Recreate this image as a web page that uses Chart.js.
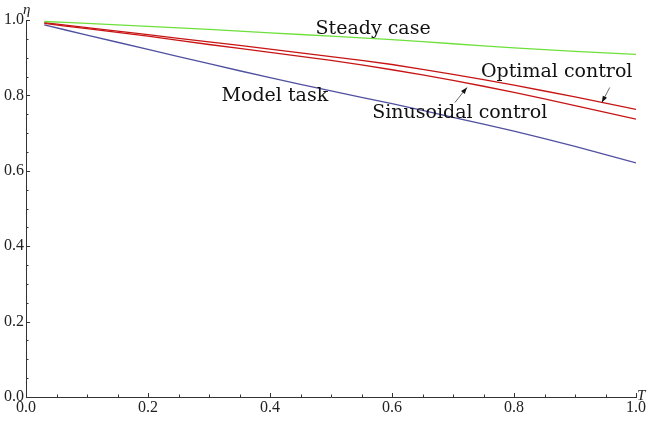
<!DOCTYPE html>
<html>
<head>
<meta charset="utf-8">
<script src="https://cdn.jsdelivr.net/npm/chart.js@4.4.0/dist/chart.umd.min.js"></script>
<style>
  html, body { margin:0; padding:0; background:#fff; }
  #wrap { width:651px; height:422px; position:relative; }
</style>
</head>
<body>
<div id="wrap"><canvas id="c"></canvas></div>
<script>
// ---- data ----
const tValues    = [0.03, 0.1, 0.2, 0.3, 0.4, 0.5, 0.6, 0.7, 0.8, 0.9, 1.0];
const steadyCase = [0.996, 0.991, 0.983, 0.975, 0.966, 0.957, 0.948, 0.937, 0.926, 0.917, 0.909];
const optimal    = [0.993, 0.980, 0.961, 0.942, 0.923, 0.903, 0.882, 0.856, 0.827, 0.796, 0.763];
const sinusoidal = [0.991, 0.977, 0.957, 0.935, 0.914, 0.893, 0.868, 0.840, 0.808, 0.773, 0.737];
const modelTask  = [0.987, 0.960, 0.922, 0.884, 0.847, 0.812, 0.778, 0.742, 0.705, 0.665, 0.621];

// curve labels (data coords) and arrows [tailT, tailEta, headT, headEta]
const labels = [
  { text:'Steady case',        t:0.569, eta:0.975 },
  { text:'Optimal control',    t:0.870, eta:0.863 },
  { text:'Model task',         t:0.408, eta:0.799 },
  { text:'Sinusoidal control', t:0.711, eta:0.754 },
];
const arrows = [
  [0.703, 0.781, 0.723, 0.821],
  [0.957, 0.821, 0.944, 0.781],
];

const serif = '"Liberation Serif", "DejaVu Serif", serif';
const labelFont = '"DejaVu Serif", serif';
const pts = vals => vals.map((v, i) => ({ x: tValues[i], y: v }));

// inward Mathematica-style ticks, labels, arrows
const decor = {
  id: 'decor',
  afterDraw(chart) {
    const { ctx, scales: { x, y } } = chart;
    ctx.save();
    ctx.strokeStyle = '#333'; ctx.lineWidth = 1;
    // minor/major ticks every 0.05
    for (let k = 1; k <= 20; k++) {
      const v = k * 0.05, len = (k % 4 === 0) ? 4 : 2.5;
      const px = Math.round(x.getPixelForValue(v)) + 0.5;
      const py = Math.round(y.getPixelForValue(v)) + 0.5;
      ctx.beginPath(); ctx.moveTo(px, y.bottom); ctx.lineTo(px, y.bottom - len); ctx.stroke();
      ctx.beginPath(); ctx.moveTo(x.left, py); ctx.lineTo(x.left + len, py); ctx.stroke();
    }
    // axis names
    ctx.fillStyle = '#222';
    ctx.font = 'italic 15px ' + serif;
    ctx.textAlign = 'left'; ctx.textBaseline = 'alphabetic';
    ctx.fillText('η', x.left - 3, y.top - 6);
    ctx.fillText('T', x.right + 1, y.bottom + 3);
    // curve labels
    ctx.fillStyle = '#111';
    ctx.font = '19px ' + labelFont;
    ctx.textAlign = 'center'; ctx.textBaseline = 'middle';
    labels.forEach(l => ctx.fillText(l.text, x.getPixelForValue(l.t), y.getPixelForValue(l.eta)));
    // arrows
    ctx.strokeStyle = '#444'; ctx.fillStyle = '#111'; ctx.lineWidth = 0.8;
    arrows.forEach(a => {
      const x0 = x.getPixelForValue(a[0]), y0 = y.getPixelForValue(a[1]);
      const x1 = x.getPixelForValue(a[2]), y1 = y.getPixelForValue(a[3]);
      const ang = Math.atan2(y1 - y0, x1 - x0), h = 7;
      ctx.beginPath(); ctx.moveTo(x0, y0); ctx.lineTo(x1, y1); ctx.stroke();
      ctx.beginPath();
      ctx.moveTo(x1, y1);
      ctx.lineTo(x1 - h * Math.cos(ang - 0.35), y1 - h * Math.sin(ang - 0.35));
      ctx.lineTo(x1 - h * Math.cos(ang + 0.35), y1 - h * Math.sin(ang + 0.35));
      ctx.closePath(); ctx.fill();
    });
    ctx.restore();
  }
};

const line = (data, color) => ({
  data: pts(data), borderColor: color, borderWidth: 1.3,
  pointRadius: 0, tension: 0.2, fill: false,
});

new Chart(document.getElementById('c'), {
  type: 'line',
  data: {
    datasets: [
      line(steadyCase, '#6ee03c'),
      line(optimal, '#c81414'),
      line(sinusoidal, '#c81414'),
      line(modelTask, '#5050a0'),
    ]
  },
  options: {
    responsive: true, maintainAspectRatio: false, animation: false,
    layout: { padding: { top: 20, right: 15, left: 0, bottom: 0 } },
    plugins: { legend: { display: false }, tooltip: { enabled: false } },
    scales: {
      x: {
        type: 'linear', min: 0, max: 1,
        ticks: { stepSize: 0.2, callback: v => v.toFixed(1), color: '#222', padding: 1, maxRotation: 0,
                 font: { family: serif, size: 16 } },
        grid: { display: true, drawOnChartArea: false, drawTicks: false, color: 'rgba(0,0,0,0)' },
        border: { display: true, color: '#333', width: 1 },
        afterFit: s => { s.height = 25; }
      },
      y: {
        type: 'linear', min: 0, max: 1,
        ticks: { stepSize: 0.2, callback: v => v.toFixed(1), color: '#222', padding: 2,
                 font: { family: serif, size: 16 } },
        grid: { display: true, drawOnChartArea: false, drawTicks: false, color: 'rgba(0,0,0,0)' },
        border: { display: true, color: '#333', width: 1 },
        afterFit: s => { s.width = 26; }
      }
    }
  },
  plugins: [decor]
});
</script>
</body>
</html>
